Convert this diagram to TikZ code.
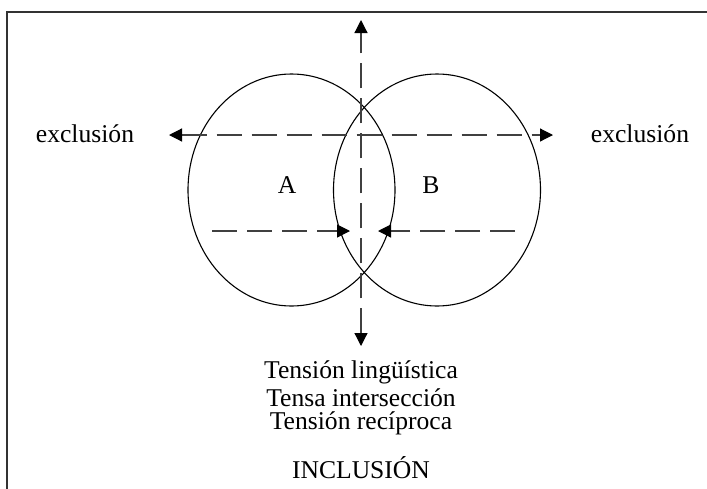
\documentclass[tikz,border=0pt]{standalone}
\usepackage{fontspec}
\setmainfont{Liberation Serif}
\usepackage{tikz}
\usetikzlibrary{positioning,arrows.meta}

\begin{document}
\begin{tikzpicture}[x=0.5pt,y=-0.5pt,
  eje/.style={draw=black!75,line width=0.6pt,dash pattern=on 12.5pt off 5pt},
  tip/.style={-{Triangle[length=6.5pt,width=6.5pt,black]}},
  both/.style={{Triangle[length=6.5pt,width=6.5pt,black]}-{Triangle[length=6.5pt,width=6.5pt,black]}},
  every node/.style={font=\fontsize{12.8}{15}\selectfont}]
  \useasboundingbox (0,0) rectangle (707,488);
  \draw[black!80,line width=1pt] (7,495) -- (7,11.5) -- (715,11.5);
  % los dos conjuntos
  \draw[line width=0.55pt] (291.5,190) ellipse [x radius=103.5,y radius=116];
  \draw[line width=0.55pt] (437,190) ellipse [x radius=103.5,y radius=116];
  \node (A) at (287,185) {A};
  \node (B) at (431,185) {B};
  % ejes
  \coordinate (arriba) at (361,20);
  \coordinate (abajo) at (361,346);
  \coordinate (izq) at (169,135);
  \coordinate (der) at (553,135);
  \draw[eje,both] (abajo) -- (arriba);
  \draw[eje,both] (izq) -- (der);
  \coordinate (a0) at (212,231);
  \coordinate (a1) at (350,231);
  \coordinate (b0) at (515,231);
  \coordinate (b1) at (378,231);
  \draw[eje,tip] (a0) -- (a1);
  \draw[eje,tip] (b0) -- (b1);
  \node (exi) at (85,134) {exclusión};
  \node (exd) at (640,134) {exclusión};
  % textos de abajo
  \node (t1) at (361,372) {Tensión lingüística};
  \node (t2) at (361,397.5) {Tensa intersección};
  \node (t3) at (361,423) {Tensión recíproca};
  \node (inc) at (361,468) {INCLUSIÓN};
\end{tikzpicture}
\end{document}
